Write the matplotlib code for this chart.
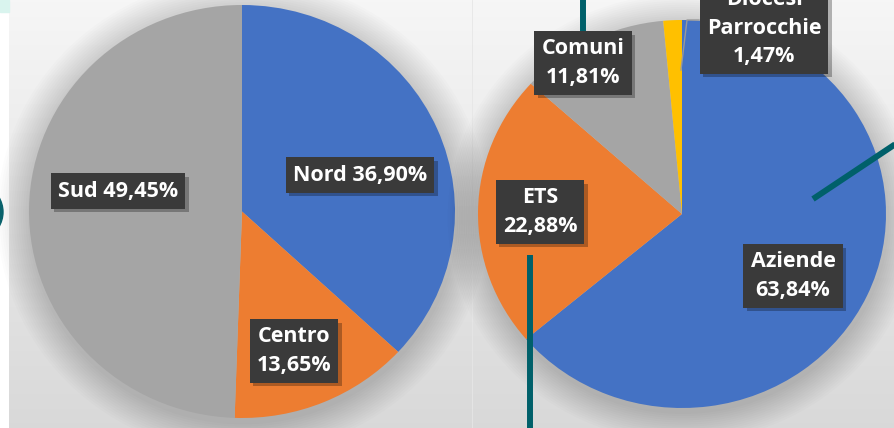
import numpy as np
import matplotlib
matplotlib.use("Agg")
import matplotlib.pyplot as plt
from matplotlib.patches import Ellipse, Rectangle
import matplotlib.patheffects as pe

# ---------------- data ----------------
left_labels = ["Nord", "Centro", "Sud"]
left_values = [36.90, 13.65, 49.45]
left_seps = [" ", "\n", " "]

right_labels = ["Aziende", "ETS", "Comuni", "Diocesi\nParrocchie"]
right_values = [63.84, 22.88, 11.81, 1.47]
right_seps = ["\n", "\n", "\n", "\n"]

colors_left = ["#4472C4", "#ED7D31", "#A5A5A5"]
colors_right = ["#4472C4", "#ED7D31", "#A5A5A5", "#FFC000"]

W, H = 894, 428
fig = plt.figure(figsize=(W / 100, H / 100), dpi=100)

# ---------------- background ----------------
bg = fig.add_axes([0, 0, 1, 1], zorder=0)
bg.set_xlim(0, W)
bg.set_ylim(H, 0)
bg.axis("off")
grad = np.linspace(0, 1, 256)[:, None]
top = np.array([0.965, 0.965, 0.965])
bot = np.array([0.85, 0.85, 0.85])
img = top[None, None, :] * (1 - grad[..., None]) + bot[None, None, :] * grad[..., None]
bg.add_patch(Rectangle((0, 0), W, H, color="white", zorder=0))
bg.imshow(img, extent=(9, 472, H, 0), aspect="auto", zorder=1)
bg.imshow(img, extent=(471.5, W, H, 0), aspect="auto", zorder=1)
bg.plot([472, 472], [0, H], color="#e6e6e6", lw=0.6, zorder=2)
bg.add_patch(Rectangle((0, 0), 9, 12, color="#d9f4ee", zorder=2))
bg.add_patch(Ellipse((-60, 212), 126, 84, color="#0b6670", zorder=2))
bg.set_xlim(0, W)
bg.set_ylim(H, 0)


def make_pie(bbox_px, values, colors):
    x0, y0, x1, y1 = bbox_px
    ax = fig.add_axes([x0 / W, 1 - y1 / H, (x1 - x0) / W, (y1 - y0) / H], zorder=1)
    ax.patch.set_alpha(0)
    # soft shadow
    for k in range(14):
        s = 1.0 + 0.011 * (k + 1)
        ax.add_patch(Ellipse((0.005, -0.02), 2 * s, 2 * s, color="black",
                             alpha=0.012, lw=0, clip_on=False, zorder=0))
    ax.pie(values, colors=colors, startangle=90, counterclock=False, radius=1,
           wedgeprops=dict(linewidth=0, zorder=2))
    ax.set_xlim(-1, 1)
    ax.set_ylim(-1, 1)
    ax.set_aspect("auto")
    ax.axis("off")
    return ax


make_pie((29, 5, 455, 418), left_values, colors_left)
make_pie((478, 20, 886, 408), right_values, colors_right)

# ---------------- overlay: leader lines & labels ----------------
ov = fig.add_axes([0, 0, 1, 1], zorder=5)
ov.patch.set_alpha(0)
ov.set_xlim(0, W)
ov.set_ylim(H, 0)
ov.axis("off")

teal = "#00606a"
ov.plot([583, 583], [-5, 36], color=teal, lw=4.3, solid_capstyle="butt")
ov.plot([813, 900], [199, 141], color=teal, lw=4.3, solid_capstyle="butt")
ov.plot([530, 530], [255, 435], color=teal, lw=4.3, solid_capstyle="butt")
ov.plot([681, 687, 699], [70, 20, 20], color="#9a9a9a", lw=1.0)


def fmt(v):
    return f"{v:.2f}".replace(".", ",") + "%"


def label(x, y, text):
    t = ov.text(x, y, text, ha="center", va="center", color="white",
                fontsize=15.5, fontweight="bold", family=["Open Sans", "DejaVu Sans"],
                linespacing=1.45,
                bbox=dict(boxstyle="square,pad=0.33", fc="#3a3a3a", ec="none"))
    t.get_bbox_patch().set_path_effects([
        pe.SimplePatchShadow(offset=(2.5, -2.5), shadow_rgbFace="black", alpha=0.28),
        pe.Normal()])
    return t


left_pos = [(360, 175), (294, 351), (118, 191)]
for lab, v, sep, p in zip(left_labels, left_values, left_seps, left_pos):
    label(p[0], p[1], lab + sep + fmt(v))

right_pos = [(793, 276), (540, 212), (583, 63), (764, 28)]
for lab, v, sep, p in zip(right_labels, right_values, right_seps, right_pos):
    label(p[0], p[1], lab + sep + fmt(v))

fig.savefig("out.png", dpi=100)
